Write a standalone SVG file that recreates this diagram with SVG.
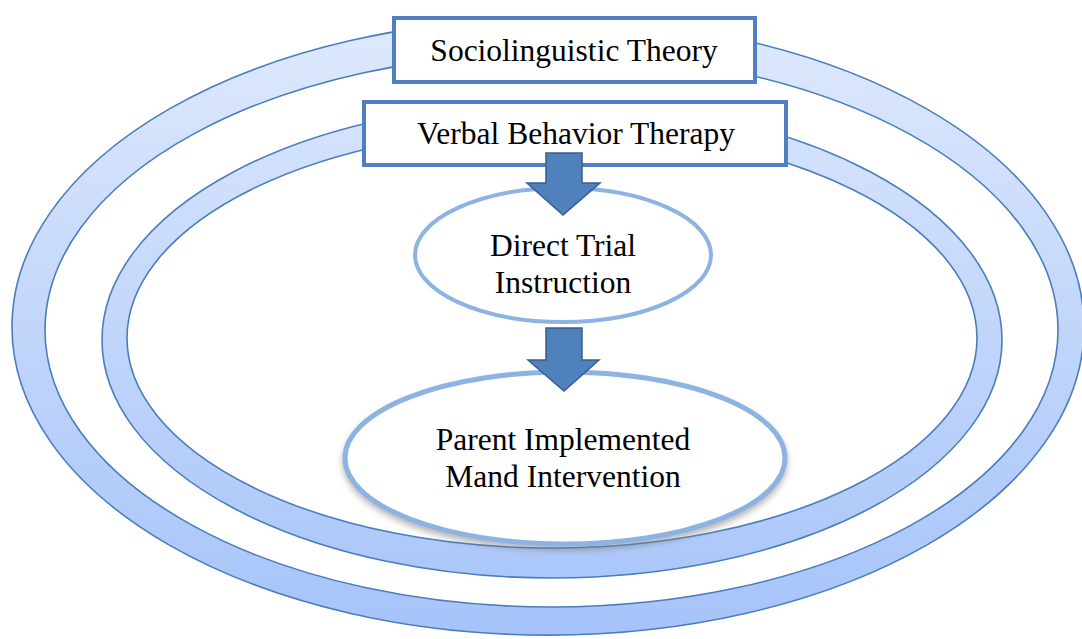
<svg xmlns="http://www.w3.org/2000/svg" width="1082" height="639" viewBox="0 0 1082 639">
<defs>
<linearGradient id="ringGrad" gradientUnits="userSpaceOnUse" x1="0" y1="19" x2="0" y2="636">
<stop offset="0" stop-color="#dee9fc"/>
<stop offset="1" stop-color="#a6c3f9"/>
</linearGradient>
<filter id="shadow" x="-10%" y="-10%" width="120%" height="130%">
<feDropShadow dx="0" dy="4" stdDeviation="3" flood-color="#7a7a7a" flood-opacity="0.55"/>
</filter>
</defs>
<style>
.ring{fill:url(#ringGrad);fill-rule:evenodd;stroke:#4a7ebb;stroke-width:1.6}
.box{fill:#ffffff;stroke:#4f7fbf;stroke-width:4}
.oval{fill:#ffffff;stroke:#8db3e2}
.arrow{fill:#4f81bd;stroke:#385d8a;stroke-width:1.5;stroke-linejoin:miter}
.lbl{font-family:"Liberation Serif","Times New Roman",serif;font-size:31.5px;fill:#000000;text-anchor:middle}
</style>
<rect width="1082" height="639" fill="#ffffff"/>
<g id="outer-ring">
<path class="ring" d="M12,327 A536,308 0 1,0 1084,327 A536,308 0 1,0 12,327 Z M45,330 A506.5,277 0 1,1 1058,330 A506.5,277 0 1,1 45,330 Z"/>
</g>
<g id="inner-ring">
<path class="ring" d="M102,340 A450,238 0 1,0 1002,340 A450,238 0 1,0 102,340 Z M127,338 A425,210 0 1,1 977,338 A425,210 0 1,1 127,338 Z"/>
</g>
<g id="sociolinguistic-theory">
<rect class="box" x="394" y="18" width="361" height="64"/>
<text class="lbl" x="574" y="61">Sociolinguistic Theory</text>
</g>
<g id="verbal-behavior-therapy">
<rect class="box" x="364" y="102" width="422" height="63"/>
<text class="lbl" x="576" y="144">Verbal Behavior Therapy</text>
</g>
<g id="direct-trial-instruction">
<ellipse class="oval" cx="563" cy="255" rx="148" ry="67" stroke-width="4"/>
<text class="lbl" x="563" y="256">Direct Trial</text>
<text class="lbl" x="563" y="293">Instruction</text>
</g>
<g id="parent-implemented-mand-intervention">
<ellipse class="oval" cx="565" cy="458" rx="220" ry="86" stroke-width="5" filter="url(#shadow)"/>
<text class="lbl" x="563" y="450">Parent Implemented</text>
<text class="lbl" x="563" y="487">Mand Intervention</text>
</g>
<g id="connectors">
<path class="arrow" d="M546,153 L582,153 L582,183 L600,183 L563,215 L527,183 L546,183 Z"/>
<path class="arrow" d="M546,328 L582,328 L582,360 L599,360 L564,391 L528,360 L546,360 Z"/>
</g>
</svg>
